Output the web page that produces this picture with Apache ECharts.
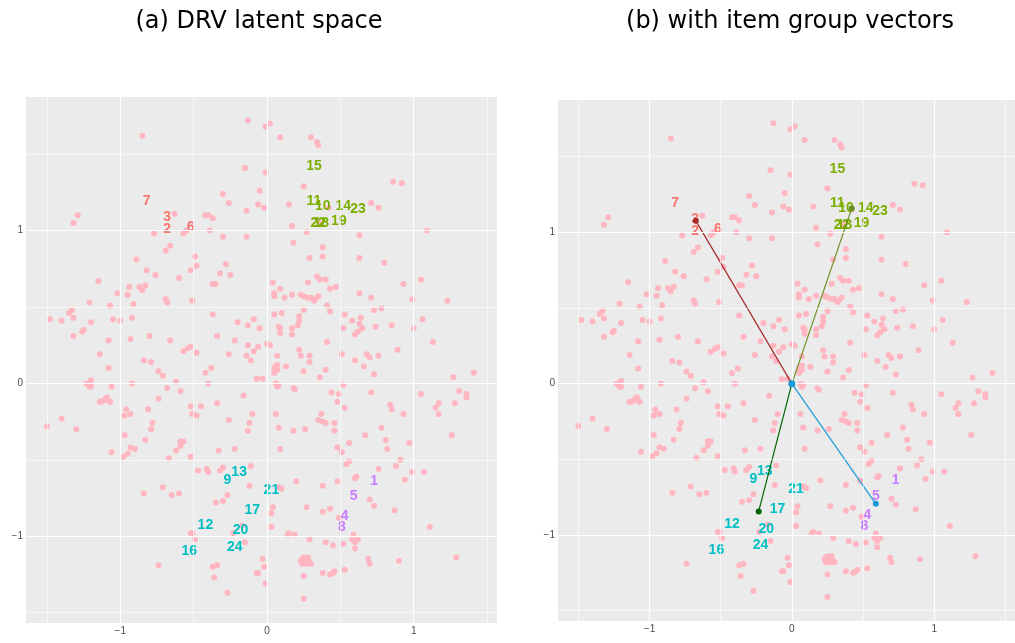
<!DOCTYPE html>
<html>
<head>
<meta charset="utf-8">
<title>DRV latent space</title>
<script src="https://cdn.jsdelivr.net/npm/echarts@6/dist/echarts.min.js"></script>
<style>
  html, body { margin: 0; padding: 0; background: #ffffff; }
  #chart { width: 1015px; height: 643px; }
</style>
</head>
<body>
<div id="chart"></div>
<script>
// ---- user positions in the 2-D latent space ----
const userPoints = [
  [-0.13,1.72],[-0.85,1.62],[-0.15,1.41],[-0.30,1.24],[-0.05,1.26],[-0.26,1.18],[-0.06,1.17],[-0.02,1.15],
  [-0.14,1.13],[-1.29,1.10],[-1.32,1.05],[-0.63,1.11],[-0.42,1.10],[-0.40,1.10],[-0.37,1.08],[-0.39,1.00],
  [-0.77,0.98],[-0.57,0.98],[-0.55,1.00],[-0.30,0.96],[-0.14,0.96],[-0.69,0.87],[-0.66,0.90],[-0.49,0.83],
  [-0.28,0.78],[-0.89,0.81],[-0.82,0.74],[-0.48,0.77],[-0.52,0.74],
  [-0.01,1.68],[0.02,1.70],[0.09,1.61],[0.30,1.61],[0.34,1.58],[0.35,1.56],[-0.01,1.38],[0.25,1.29],
  [0.86,1.32],[0.92,1.31],[0.15,1.17],[0.42,1.15],[0.71,1.18],[0.76,1.15],[0.17,1.03],[0.27,0.99],
  [0.36,1.05],[1.09,1.00],[0.18,0.92],[0.38,0.89],[0.63,0.97],[0.29,0.82],[0.38,0.83],[0.63,0.82],[0.80,0.79],
  [-0.76,0.71],[-0.32,0.72],[-0.25,0.71],[-0.60,0.69],[-1.15,0.67],[-0.94,0.63],[-0.87,0.63],[-0.85,0.61],
  [-0.83,0.64],[-1.02,0.59],[-0.95,0.58],[-0.37,0.65],[-0.35,0.65],[-1.21,0.53],[-0.69,0.55],[-0.68,0.53],
  [-0.51,0.54],[-0.91,0.52],[-1.07,0.51],[-1.33,0.48],[-1.35,0.46],[-1.48,0.42],[-1.40,0.41],[-1.32,0.43],
  [-1.20,0.40],[-1.05,0.42],[-1.00,0.41],[-0.92,0.43],[-0.37,0.45],[-0.20,0.40],[-0.09,0.42],[-0.13,0.38],
  [-0.05,0.36],[-1.26,0.34],[-1.25,0.35],[-1.32,0.31],[-1.08,0.28],[-0.93,0.29],[-0.80,0.31],[-0.66,0.28],
  [-0.34,0.31],[-0.22,0.28],[-0.13,0.25],[-0.06,0.24],[-0.09,0.21],[-0.52,0.24],[-0.54,0.23],[-0.57,0.21],
  [-0.48,0.20],[-1.14,0.19],[-0.84,0.15],[-0.79,0.14],[-0.26,0.19],[-0.14,0.18],[-0.11,0.15],[-1.08,0.10],
  [-0.74,0.08],[-0.38,0.10],[-0.42,0.07],[-0.71,0.05],[-0.07,0.03],[-0.03,0.03],[-1.20,0.02],[-1.23,0.00],
  [-1.21,-0.02],[-1.20,-0.02],[-1.06,-0.02],[-0.92,0.00],[-0.62,0.01],[-0.40,0.00],[-0.68,-0.03],[-0.59,-0.05],
  [-1.09,-0.09],[-1.10,-0.10],[-1.11,-0.11],[-1.13,-0.12],[-1.14,-0.12],[-1.07,-0.12],[-0.74,-0.10],[-0.16,-0.08],
  [-0.96,-0.17],[-0.81,-0.17],[-0.52,-0.15],[-0.45,-0.15],[-0.34,-0.13],[-0.97,-0.21],[-0.93,-0.20],[-0.51,-0.20],
  [-0.48,-0.21],[-0.10,-0.20],[-1.40,-0.23],[-0.26,-0.24],[-0.78,-0.26],[-0.12,-0.26],[-1.50,-0.28],[-1.30,-0.30],
  [-0.79,-0.30],[-0.13,-0.31],[-0.97,-0.34],[-0.83,-0.37],[-0.59,-0.38],[-0.57,-0.38],[-0.59,-0.41],[-0.93,-0.42],
  [-0.90,-0.43],[-0.62,-0.44],[-0.33,-0.44],[-0.22,-0.43],
  [-1.06,-0.45],[-0.98,-0.48],[-0.95,-0.46],[-0.67,-0.49],[-0.52,-0.48],[-0.47,-0.57],[-0.41,-0.56],[-0.40,-0.58],
  [-0.32,-0.57],[-0.30,-0.55],[-0.11,-0.54],[-0.12,-0.67],[-0.27,-0.73],[-0.30,-0.77],[-0.35,-0.78],[-0.84,-0.72],
  [-0.71,-0.68],[-0.65,-0.73],[-0.60,-0.72],[-0.52,-0.98],[-0.51,-0.98],[-0.49,-1.02],[-0.23,-0.98],[-0.17,-0.93],
  [-0.15,-1.04],[-0.03,-1.15],[-0.02,-1.20],[-0.74,-1.19],[-0.37,-1.20],[-0.34,-1.19],[-0.07,-1.24],[-0.06,-1.24],
  [-0.36,-1.27],[-0.27,-1.37],[-0.01,-1.31],
  [0.09,-0.43],[0.48,-0.42],[0.51,-0.45],[0.82,-0.43],[0.97,-0.39],[0.54,-0.53],[0.56,-0.51],[0.91,-0.50],
  [0.88,-0.54],[0.76,-0.56],[1.07,-0.58],[0.99,-0.58],[0.60,-0.62],[0.61,-0.61],[0.94,-0.63],[0.20,-0.64],
  [0.38,-0.67],[0.48,-0.64],[0.08,-0.68],[0.10,-0.69],[0.70,-0.76],[0.73,-0.80],[0.87,-0.83],[0.27,-0.81],
  [0.38,-0.84],[0.43,-0.82],[0.04,-0.81],[0.03,-0.85],[0.49,-0.88],[0.03,-0.94],[1.11,-0.94],[0.14,-0.99],
  [0.15,-0.98],[0.19,-0.99],[0.29,-1.02],[0.40,-1.04],[0.45,-1.06],[0.52,-1.05],[0.59,-0.99],[0.58,-1.02],
  [0.60,-1.04],[0.62,-1.02],[0.60,-1.08],[0.69,-1.15],[0.70,-1.18],[0.90,-1.16],[1.29,-1.14],
  [0.23,-1.16],[0.24,-1.15],[0.25,-1.14],[0.26,-1.15],[0.27,-1.16],[0.25,-1.17],[0.27,-1.18],[0.28,-1.14],
  [0.29,-1.17],[0.24,-1.18],[0.30,-1.18],[0.38,-1.24],[0.43,-1.25],[0.45,-1.24],[0.46,-1.23],[0.53,-1.22],
  [0.25,-1.26],[0.25,-1.41],
  [0.04,0.66],[0.09,0.62],[0.05,0.59],[0.05,0.57],[0.12,0.56],[0.17,0.58],[0.23,0.58],[0.25,0.57],
  [0.28,0.66],[0.34,0.70],[0.36,0.68],[0.40,0.68],[0.28,0.56],[0.30,0.56],[0.32,0.54],[0.33,0.55],
  [0.35,0.57],[0.43,0.62],[0.47,0.63],[0.63,0.59],[0.71,0.56],[0.93,0.65],[1.05,0.68],[0.99,0.55],
  [1.23,0.54],[0.41,0.51],[0.43,0.47],[0.05,0.45],[0.10,0.46],[0.25,0.48],[0.22,0.44],[0.22,0.41],
  [0.21,0.38],[0.53,0.45],[0.73,0.48],[0.78,0.49],[0.08,0.37],[0.09,0.36],[0.17,0.36],[0.17,0.32],
  [0.09,0.33],[0.58,0.41],[0.64,0.43],[0.63,0.39],[0.65,0.36],[0.62,0.34],[0.60,0.32],[0.52,0.36],
  [0.74,0.37],[0.85,0.38],[1.06,0.42],[1.00,0.36],[1.13,0.27],[0.00,0.26],[0.02,0.25],[0.41,0.27],
  [0.22,0.22],[0.07,0.18],[0.23,0.18],[0.29,0.18],[0.29,0.14],[0.51,0.19],[0.60,0.15],[0.68,0.19],
  [0.70,0.17],[0.76,0.18],[0.89,0.22],[0.07,0.12],[0.06,0.11],[0.05,0.10],[0.07,0.09],[0.05,0.07],
  [0.13,0.11],[0.25,0.08],[0.40,0.09],[0.66,0.11],[0.73,0.06],[0.36,0.04],[1.27,0.04],[1.41,0.07],
  [0.06,0.00],[0.07,-0.01],[0.08,-0.01],[0.07,-0.02],[0.18,-0.03],[0.19,-0.04],[0.52,-0.01],[0.44,-0.06],
  [0.49,-0.07],[0.71,-0.06],[1.05,-0.07],[1.31,-0.05],[1.36,-0.07],[1.36,-0.09],[1.28,-0.13],[0.48,-0.12],
  [0.53,-0.16],[0.84,-0.14],[0.85,-0.17],[1.17,-0.13],[1.15,-0.16],[1.17,-0.20],[0.93,-0.20],[0.06,-0.20],
  [0.37,-0.20],[0.35,-0.24],[0.38,-0.25],[0.40,-0.26],[0.46,-0.26],[0.08,-0.29],[0.18,-0.31],[0.26,-0.30],
  [0.46,-0.31],[0.78,-0.29],[0.67,-0.34],[0.81,-0.37],[0.56,-0.39],[1.26,-0.34]
];

// ---- item positions (labels) and their groups ----
const itemIds   = ['7','3','2','6','15','11','10','14','23','22','18','19','1','5','4','8','9','13','21','17','12','20','24','16'];
const itemX     = [-0.82,-0.68,-0.68,-0.52, 0.32,0.32,0.38,0.52,0.62,0.35,0.37,0.49, 0.73,0.59,0.53,0.51, -0.27,-0.19,0.03,-0.10,-0.42,-0.18,-0.22,-0.53];
const itemY     = [1.19,1.09,1.01,1.02, 1.42,1.19,1.16,1.16,1.14,1.05,1.05,1.06, -0.64,-0.74,-0.87,-0.94, -0.63,-0.58,-0.70,-0.83,-0.93,-0.96,-1.07,-1.10];
const itemGroup = [0,0,0,0, 1,1,1,1,1,1,1,1, 3,3,3,3, 2,2,2,2,2,2,2,2];
const groupColors = ['#F8766D', '#7CAE00', '#00BFC4', '#C77CFF'];

// ---- item group vectors (from the origin to each group's centre) ----
const vectorX = [-0.675, 0.421, -0.233, 0.590];
const vectorY = [1.077, 1.158, -0.844, -0.794];
const vectorColors = ['#A52A2A', '#6B8E23', '#006400', '#1A9BD7'];

// ---- axes ----
const tickValues = [-1, 0, 1];
const majorGrid = [-1, 0, 1];
const minorGrid = [-1.5, -0.5, 0.5, 1.5];
const xRange = [-1.643, 1.568];
const yRange = [-1.568, 1.874];

const panelTitles = ['(a) DRV latent space', '(b) with item group vectors'];

// ---------------------------------------------------------------
const chart = echarts.init(document.getElementById('chart'), null, { renderer: 'canvas' });

const fmt = v => (v < 0 ? '\u2212' + Math.abs(v) : String(v));

const panels = [
  { left: 26, top: 97, width: 471, height: 526, titleX: 259 },
  { left: 558, top: 100, width: 468, height: 521, titleX: 790 }
];

const grids = panels.map(p => ({
  left: p.left, top: p.top, width: p.width, height: p.height,
  show: true, backgroundColor: '#EBEBEB', borderWidth: 0, containLabel: false
}));

function axisCommon(range) {
  return {
    type: 'value', min: range[0], max: range[1],
    axisLine: { show: false },
    splitLine: { show: false },
    axisTick: { show: true, length: 3, customValues: tickValues, lineStyle: { color: '#333333', width: 1 } },
    axisLabel: {
      customValues: tickValues, formatter: fmt, color: '#4D4D4D',
      fontSize: 10, fontFamily: 'Liberation Sans', margin: 3
    }
  };
}

const xAxes = panels.map((p, i) => Object.assign(axisCommon(xRange), { gridIndex: i }));
const yAxes = panels.map((p, i) => Object.assign(axisCommon(yRange), { gridIndex: i }));

function gridLines() {
  const data = [];
  minorGrid.forEach(v => {
    data.push({ xAxis: v, lineStyle: { color: '#FFFFFF', width: 0.6, type: 'solid' } });
    data.push({ yAxis: v, lineStyle: { color: '#FFFFFF', width: 0.6, type: 'solid' } });
  });
  majorGrid.forEach(v => {
    data.push({ xAxis: v, lineStyle: { color: '#FFFFFF', width: 1.2, type: 'solid' } });
    data.push({ yAxis: v, lineStyle: { color: '#FFFFFF', width: 1.2, type: 'solid' } });
  });
  return data;
}

const labelData = itemIds.map((id, i) => ({
  name: id,
  value: [itemX[i], itemY[i]],
  label: { color: groupColors[itemGroup[i]] }
}));

const series = [];
panels.forEach((p, i) => {
  // panel grid lines
  series.push({
    type: 'line', xAxisIndex: i, yAxisIndex: i, data: [], z: 1, silent: true,
    markLine: { silent: true, symbol: ['none', 'none'], label: { show: false }, data: gridLines(), animation: false }
  });
  // users
  series.push({
    type: 'scatter', xAxisIndex: i, yAxisIndex: i, z: 2, silent: true,
    symbol: 'circle', symbolSize: 6,
    itemStyle: { color: '#FFB6C1', opacity: 1 },
    data: userPoints
  });
  // item labels
  series.push({
    type: 'scatter', xAxisIndex: i, yAxisIndex: i, z: 3, silent: true,
    symbolSize: 1, itemStyle: { color: 'rgba(0,0,0,0)', opacity: 1 },
    label: {
      show: true, position: 'inside', formatter: d => d.name, opacity: 1,
      textBorderWidth: 0, textShadowBlur: 0,
      fontFamily: 'Liberation Sans', fontWeight: 'bold', fontSize: 14
    },
    data: labelData
  });
});

// group vectors on the second panel
vectorX.forEach((vx, g) => {
  series.push({
    type: 'line', xAxisIndex: 1, yAxisIndex: 1, z: 4, silent: true,
    data: [[0, 0], [vx, vectorY[g]]],
    symbol: 'circle', symbolSize: 6, showSymbol: true,
    lineStyle: { color: vectorColors[g], width: 1.2 },
    itemStyle: { color: vectorColors[g], borderWidth: 0 }
  });
});
// common origin of the vectors
series.push({
  type: 'scatter', xAxisIndex: 1, yAxisIndex: 1, z: 5, silent: true,
  symbol: 'circle', symbolSize: 7,
  itemStyle: { color: vectorColors[3], opacity: 1 },
  data: [[0, 0]]
});

chart.setOption({
  animation: false,
  backgroundColor: '#FFFFFF',
  grid: grids,
  xAxis: xAxes,
  yAxis: yAxes,
  graphic: panels.map((p, i) => ({
    type: 'text', x: p.titleX, y: 22, silent: true,
    style: {
      text: panelTitles[i], fill: '#000000',
      font: '24px "DejaVu Sans"', textAlign: 'center', textVerticalAlign: 'middle'
    }
  })),
  series: series
});
</script>
</body>
</html>
